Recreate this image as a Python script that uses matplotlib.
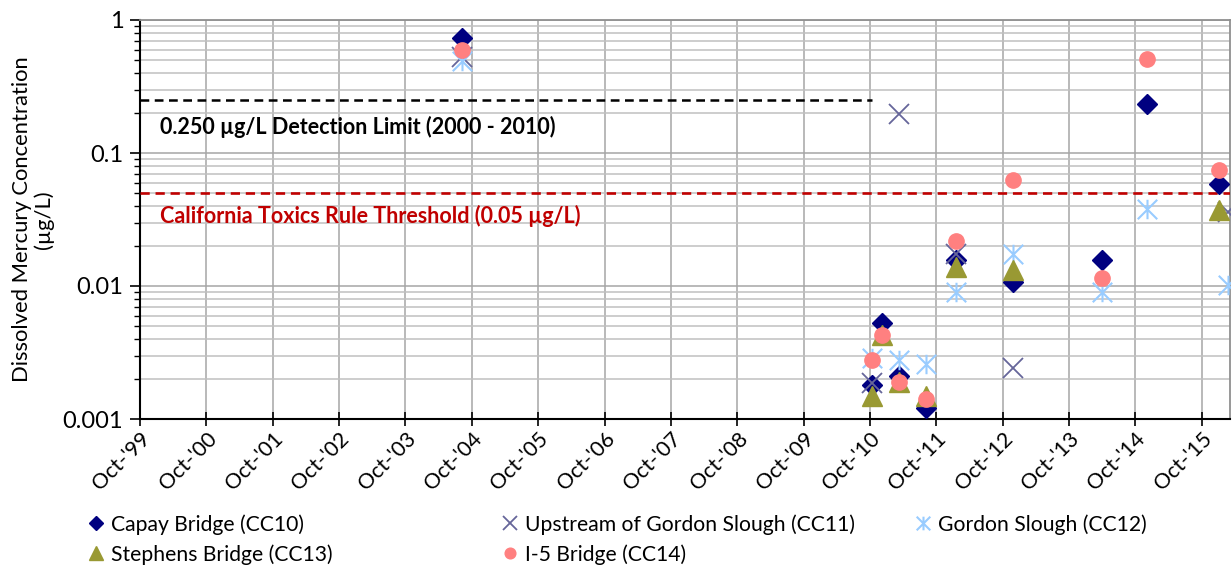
import matplotlib
matplotlib.use("Agg")
import matplotlib.pyplot as plt
import matplotlib.dates as mdates
from matplotlib.path import Path
from matplotlib.ticker import FuncFormatter, LogLocator, NullFormatter
import pandas as pd

plt.rcParams["font.family"] = ["Lato", "DejaVu Sans"]

# sample dates and dissolved mercury results (ug/L)
capay_dates = ["2004-08-08", "2010-10-10", "2010-12-08", "2011-03-10", "2011-08-05",
               "2012-01-20", "2012-11-27", "2014-04-01", "2014-12-05", "2016-01-05"]
capay_vals = [0.73, 0.0018, 0.0053, 0.0021, 0.0012, 0.0157, 0.0108, 0.0157, 0.234, 0.058]

upstream_dates = ["2004-08-08", "2010-10-10", "2011-03-10", "2012-01-20", "2012-11-27", "2016-02-25"]
upstream_vals = [0.53, 0.00185, 0.195, 0.0174, 0.0024, 0.036]

gordon_dates = ["2004-08-08", "2010-10-10", "2011-03-10", "2011-08-05", "2012-01-20",
                "2012-11-27", "2014-04-01", "2014-12-05", "2016-02-25"]
gordon_vals = [0.49, 0.0029, 0.0028, 0.0026, 0.009, 0.0174, 0.009, 0.0377, 0.0102]

stephens_dates = ["2010-10-10", "2010-12-08", "2011-03-10", "2011-08-05", "2012-01-20",
                  "2012-11-27", "2016-01-05"]
stephens_vals = [0.0015, 0.0043, 0.0019, 0.0015, 0.0138, 0.0132, 0.037]

i5_dates = ["2004-08-08", "2010-10-10", "2010-12-08", "2011-03-10", "2011-08-05",
            "2012-01-20", "2012-11-27", "2014-04-01", "2014-12-05", "2016-01-05"]
i5_vals = [0.59, 0.0028, 0.0043, 0.0019, 0.00142, 0.0219, 0.063, 0.0114, 0.51, 0.074]

detection_limit = 0.25
detection_span = ["1999-10-01", "2010-10-12"]
ctr_threshold = 0.05

x_range = ["1999-10-01", "2016-03-05"]

# Excel-style asterisk marker
asterisk = Path([(0, -1), (0, 1), (-1, -1), (1, 1), (-1, 1), (1, -1)],
                [Path.MOVETO, Path.LINETO, Path.MOVETO, Path.LINETO, Path.MOVETO, Path.LINETO])

series = [
    ("Capay Bridge (CC10)", capay_dates, capay_vals,
     dict(marker="D", ms=10, color="#000080", mec="#000080")),
    ("Upstream of Gordon Slough (CC11)", upstream_dates, upstream_vals,
     dict(marker="x", ms=14, color="#66669a", mew=1.3)),
    ("Gordon Slough (CC12)", gordon_dates, gordon_vals,
     dict(marker=asterisk, ms=14, color="#99ccff", mew=1.5)),
    ("Stephens Bridge (CC13)", stephens_dates, stephens_vals,
     dict(marker="^", ms=14, color="#999933", mec="#999933")),
    ("I-5 Bridge (CC14)", i5_dates, i5_vals,
     dict(marker="o", ms=11, color="#ff8080", mec="#ff8080")),
]

fig = plt.figure(figsize=(12.32, 5.69), dpi=100)
ax = fig.add_axes([140 / 1232, 1 - 419 / 569, 1090 / 1232, 399 / 569])

handles = {}
for name, d, v, style in series:
    (h,) = ax.plot(pd.to_datetime(d), v, linestyle="none", zorder=5, **style)
    handles[name] = h

ax.plot(pd.to_datetime(detection_span), [detection_limit] * 2, color="black",
        lw=1.8, dashes=(3.5, 2.2), zorder=4)
ax.axhline(ctr_threshold, color="#c00000", lw=1.9, dashes=(3.5, 2.2), zorder=4)

ax.text(0.018, 0.157, "0.250 \u00b5g/L Detection Limit (2000 - 2010)", transform=ax.get_yaxis_transform(),
        fontsize=15.5, fontweight="bold", color="black", va="center", ha="left")
ax.text(0.018, 0.0335, "California Toxics Rule Threshold (0.05 \u00b5g/L)", transform=ax.get_yaxis_transform(),
        fontsize=15.5, fontweight="bold", color="#c00000", va="center", ha="left")

ax.set_yscale("log")
ax.set_ylim(0.001, 1)
ax.set_xlim(pd.to_datetime(x_range))
ax.yaxis.set_major_locator(LogLocator(base=10))
ax.yaxis.set_minor_locator(LogLocator(base=10, subs=range(2, 10)))
ax.yaxis.set_major_formatter(FuncFormatter(lambda v, p: f"{v:g}"))
ax.yaxis.set_minor_formatter(NullFormatter())

ax.xaxis.set_major_locator(mdates.YearLocator(1, month=10, day=1))
ax.xaxis.set_major_formatter(mdates.DateFormatter("%b-'%y"))
for lbl in ax.get_xticklabels():
    lbl.set_rotation(45)
    lbl.set_ha("right")
    lbl.set_rotation_mode("anchor")

ax.grid(which="major", color="#a6a6a6", lw=1.1, zorder=0)
ax.grid(which="minor", axis="y", color="#c0c0c0", lw=1.1, zorder=0)
ax.set_axisbelow(True)

ax.tick_params(axis="y", which="major", length=7, width=1.2, labelsize=17, pad=5)
ax.tick_params(axis="y", which="minor", length=4, width=1.0)
ax.tick_params(axis="x", which="major", direction="inout", length=10, width=1.2, labelsize=15.5, pad=2)

for s in ["left", "bottom"]:
    ax.spines[s].set_color("black")
    ax.spines[s].set_linewidth(1.5)
for s in ["top", "right"]:
    ax.spines[s].set_color("#909090")
    ax.spines[s].set_linewidth(1.3)

ax.set_ylabel("Dissolved Mercury Concentration\n(\u00b5g/L)", fontsize=15.8, linespacing=1.1, labelpad=6)

# legend in three columns below the plot
columns = [
    (90, ["Capay Bridge (CC10)", "Stephens Bridge (CC13)"]),
    (504, ["Upstream of Gordon Slough (CC11)", "I-5 Bridge (CC14)"]),
    (917, ["Gordon Slough (CC12)"]),
]
for xpix, names in columns:
    fig.legend([handles[n] for n in names], names, loc="upper left",
               bbox_to_anchor=(xpix / 1232, 1 - 514 / 569), frameon=False,
               fontsize=15.2, handlelength=0.6, handletextpad=0.4, labelspacing=0.45,
               markerscale=0.7, borderpad=0, borderaxespad=0)

fig.savefig("out.png", dpi=100)
